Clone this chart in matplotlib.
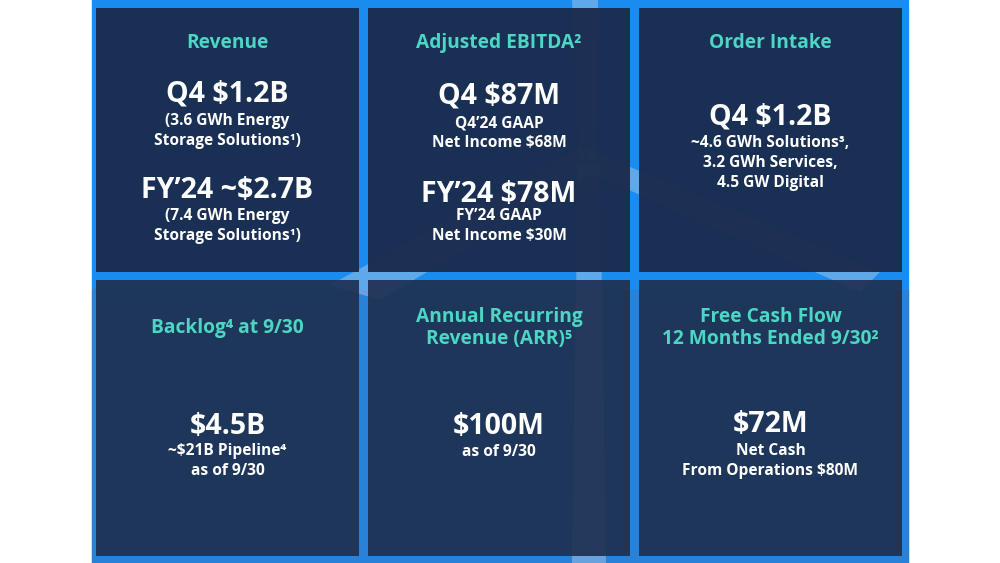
import matplotlib.pyplot as plt
from matplotlib.patches import Rectangle, Polygon

plt.rcParams['font.family'] = ['Open Sans', 'DejaVu Sans']

# --- content of the six tiles ---
titles = [
    "Revenue",
    "Adjusted EBITDA²",
    "Order Intake",
    "Backlog⁴ at 9/30",
    "Annual Recurring\nRevenue (ARR)⁵",
    "Free Cash Flow\n12 Months Ended 9/30²",
]
headlines = [
    ["Q4 $1.2B", "FY’24 ~$2.7B"],
    ["Q4 $87M", "FY’24 $78M"],
    ["Q4 $1.2B"],
    ["$4.5B"],
    ["$100M"],
    ["$72M"],
]
details = [
    ["(3.6 GWh Energy\nStorage Solutions¹)", "(7.4 GWh Energy\nStorage Solutions¹)"],
    ["Q4’24 GAAP\nNet Income $68M", "FY’24 GAAP\nNet Income $30M"],
    ["~4.6 GWh Solutions³,\n3.2 GWh Services,\n4.5 GW Digital"],
    ["~$21B Pipeline⁴\nas of 9/30"],
    ["as of 9/30"],
    ["Net Cash\nFrom Operations $80M"],
]

# --- layout (pixels, y down) ---
cols = [(96, 359), (368, 630), (639, 902)]
rows = [(8, 272), (280, 556)]
title_y = [43, 43, 43, 328, 328, 328]
head_y = [[94, 191], [96, 194], [117], [426], [426], [425]]
detail_y = [[131, 226], [133, 226], [163], [461], [452], [461]]

TEAL = '#4dd6c4'
BLUE = '#1a8cef'

fig = plt.figure(figsize=(10, 5.63), dpi=100)
ax = fig.add_axes([0, 0, 1, 1])
ax.set_xlim(0, 1000)
ax.set_ylim(563, 0)
ax.axis('off')

# blue photo backdrop
ax.add_patch(Rectangle((92, 0), 816, 563, color=BLUE, zorder=0))
ax.add_patch(Rectangle((92, 290), 816, 273, color='#3a78bf', alpha=0.45, zorder=0.5))
# faint wind turbine behind the tiles
blades = [[(572, 0), (598, 0), (596, 160), (580, 160)],
          [(580, 148), (595, 172), (380, 300), (330, 285)],
          [(585, 148), (595, 175), (860, 292), (880, 272)],
          [(578, 165), (600, 165), (606, 563), (572, 563)]]
for b in blades:
    ax.add_patch(Polygon(b, closed=True, color='#c9d6e6', alpha=0.4, zorder=1, lw=0))

for i in range(6):
    x0, x1 = cols[i % 3]
    y0, y1 = rows[i // 3]
    ax.add_patch(Rectangle((x0, y0), x1 - x0, y1 - y0,
                           color='#19294a' if i < 3 else '#1f3152',
                           alpha=0.94 if i < 3 else 0.93, zorder=2, lw=0))
    cx = (x0 + x1) / 2
    ax.text(cx, title_y[i], titles[i], color=TEAL, fontsize=13.8,
            fontweight='bold', ha='center', va='center',
            linespacing=1.15, zorder=3)
    for txt, y in zip(headlines[i], head_y[i]):
        ax.text(cx, y, txt, color='white', fontsize=20.5, fontweight='bold',
                ha='center', va='center', zorder=3)
    for txt, y in zip(details[i], detail_y[i]):
        ax.text(cx, y, txt, color='white', fontsize=11.2, fontweight='bold',
                ha='center', va='center', linespacing=1.32, zorder=3)

fig.savefig('out.png', dpi=100)
